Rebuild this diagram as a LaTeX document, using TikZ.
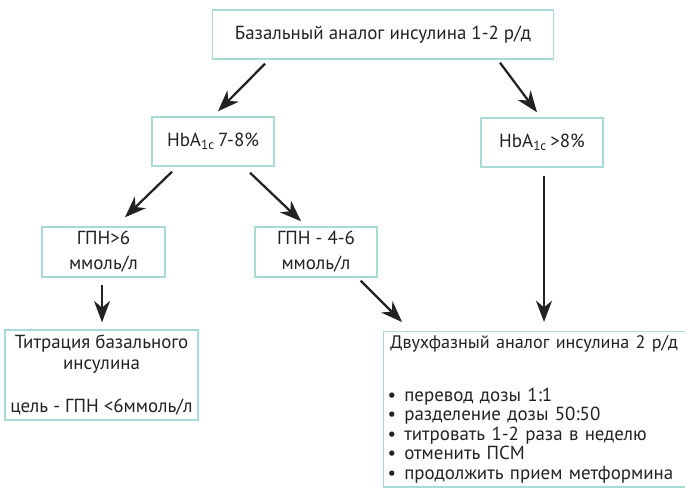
\documentclass[tikz,border=0pt]{standalone}
\usepackage{fontspec}
\setmainfont{PT Sans}
\usetikzlibrary{arrows.meta,calc}
\definecolor{boxline}{RGB}{168,218,214}
\definecolor{txtgray}{RGB}{34,34,34}
\tikzset{every picture/.style={line width=0.75pt}}
\tikzset{
  box/.style={draw=boxline, line width=1.1pt, text=txtgray, inner sep=0.75pt, align=center, font=\fontsize{14.2}{15.75}\selectfont},
  arr/.style={draw=txtgray, line width=1.7pt, -{Stealth[length=16pt,width=12pt,inset=5pt]}}
}
\newcommand{\bul}{\textbullet\hspace{6pt}}

\begin{document}
\begin{tikzpicture}[x=0.75pt,y=0.75pt,yscale=-1,xscale=1]
\useasboundingbox (0,0) rectangle (685,487);
\clip (0,0) rectangle (685,487);

%Shape: Rectangle [top]
\node [box, minimum width=255.75pt, minimum height=36.75pt] (basal) at (383,34.5) {Базальный аналог инсулина 1-2 р/д};
%Shape: Rectangle [HbA1c 7-8]
\node [box, minimum width=91.5pt, minimum height=36.75pt] (hbalow) at (213,141.5) {HbA\textsubscript{1c}\,7-8\%};
%Shape: Rectangle [HbA1c >8]
\node [box, minimum width=91.5pt, minimum height=36.75pt] (hbahigh) at (542,142.5) {HbA\textsubscript{1c}\,>8\%};
%Shape: Rectangle [fpg >6]
\node [box, minimum width=92.25pt, minimum height=37.5pt, font=\fontsize{14.2}{18.75}\selectfont] (gpnhigh) at (103.5,252) {ГПН>6\\ммоль/л};
%Shape: Rectangle [fpg 4-6]
\node [box, minimum width=91.5pt, minimum height=37.5pt, font=\fontsize{14.2}{18.75}\selectfont] (gpnmid) at (316,252) {ГПН - 4-6\\ммоль/л};
%Shape: Rectangle [titration]
\node [box, minimum width=144.75pt, minimum height=67.5pt] (titr) at (101.5,375) {Титрация базального\\инсулина\\[17pt]цель - ГПН <6ммоль/л};
%Shape: Rectangle [biphasic], runs past the right and bottom edges
\node [box, anchor=north west, align=left, inner xsep=3pt, inner ysep=3pt, text width=245pt, font=\fontsize{14.2}{14.6}\selectfont] (biph) at (383,331) {{\fontsize{13.6}{14.6}\selectfont\hspace*{2pt}Двухфазный аналог инсулина 2 р/д}\\[25pt]
\bul перевод дозы 1:1\\
\bul разделение дозы 50:50\\
\bul титровать 1-2 раза в неделю\\
\bul отменить ПСМ\\
\bul продолжить прием метформина\\[40pt]};

%Straight Lines [arrows]
\draw [arr] ($(basal.south)+(-118,4)$) -- ($(hbalow.north)+(5,-5)$);
\draw [arr] ($(basal.south)+(117,3)$) -- ($(hbahigh.north)+(-5,-5)$);
\draw [arr] ($(hbalow.south)+(-41,5)$) -- ($(gpnhigh.north)+(21.5,-9)$);
\draw [arr] ($(hbalow.south)+(37,6)$) -- ($(gpnmid.north)+(-15,-5)$);
\draw [arr] ($(gpnhigh.south)+(-1.5,7)$) -- ($(titr.north)+(0.5,-7)$);
\draw [arr] ($(gpnmid.south east)+(-17,3)$) -- ($(biph.north west)+(19,-9)$);
\draw [arr] ($(hbahigh.south)+(2,8)$) -- ($(biph.north west)+(161,-9)$);

\end{tikzpicture}
\end{document}
